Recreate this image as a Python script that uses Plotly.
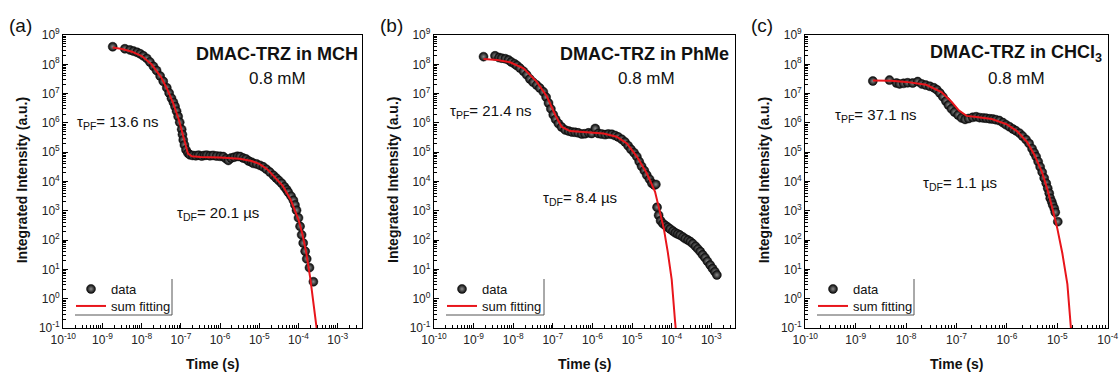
import plotly.graph_objects as go

W, H = 1119, 373

# ---------------- data (log10 of time in s, log10 of intensity) ----------------
# Panel (a) DMAC-TRZ in MCH
a_logt = [-8.74, -8.43, -8.30, -8.21, -8.12, -8.04, -7.96, -7.87, -7.79, -7.70, -7.62, -7.53,
          -7.45, -7.36, -7.30, -7.24, -7.19, -7.15, -7.11, -7.07, -7.03, -6.98, -6.96, -6.94,
          -6.91, -6.87, -6.82, -6.77, -6.70, -6.62, -6.55, -6.47, -6.40, -6.34, -6.26, -6.18,
          -6.09, -6.00, -5.92, -5.85, -5.79, -5.72, -5.64, -5.56, -5.49, -5.41, -5.34, -5.27,
          -5.20, -5.15, -5.07, -4.98, -4.90, -4.82, -4.73, -4.64, -4.57, -4.50, -4.43, -4.36,
          -4.30, -4.26, -4.19, -4.13, -4.09, -4.05, -4.00, -3.96, -3.92, -3.88, -3.83, -3.79,
          -3.72, -3.62]
a_logI = [8.60, 8.53, 8.49, 8.45, 8.41, 8.36, 8.29, 8.20, 8.08, 7.93, 7.79, 7.60,
          7.42, 7.20, 7.02, 6.84, 6.70, 6.56, 6.40, 6.22, 6.02, 5.78, 5.60, 5.42,
          5.25, 5.08, 4.97, 4.91, 4.89, 4.88, 4.90, 4.87, 4.89, 4.90, 4.88, 4.89,
          4.87, 4.86, 4.85, 4.78, 4.72, 4.80, 4.83, 4.86, 4.85, 4.80, 4.77, 4.70,
          4.66, 4.62, 4.60, 4.55, 4.50, 4.42, 4.32, 4.21, 4.12, 4.03, 3.94, 3.82,
          3.72, 3.63, 3.50, 3.36, 3.20, 3.02, 2.76, 2.47, 2.18, 1.90, 1.62, 1.36,
          1.06, 0.58]
a_fit_logt = [-8.74, -8.50, -8.25, -8.00, -7.75, -7.50, -7.35, -7.20, -7.05, -6.95, -6.88,
              -6.82, -6.72, -6.50, -6.00, -5.50, -5.20, -5.00, -4.80, -4.60, -4.40, -4.20,
              -4.00, -3.90, -3.80, -3.70, -3.60, -3.54, -3.50]
a_fit_logI = [8.57, 8.52, 8.43, 8.28, 8.00, 7.55, 7.15, 6.68, 6.10, 5.60, 5.20,
              4.95, 4.86, 4.84, 4.82, 4.78, 4.70, 4.60, 4.42, 4.15, 3.85, 3.38,
              2.70, 2.20, 1.55, 0.70, -0.30, -1.00, -1.40]

# Panel (b) DMAC-TRZ in PhMe
b_logt = [-8.75, -8.46, -8.36, -8.29, -8.20, -8.12, -8.05, -7.97, -7.91, -7.83, -7.74, -7.66,
          -7.58, -7.50, -7.41, -7.33, -7.24, -7.17, -7.11, -7.05, -6.99, -6.93, -6.86, -6.78,
          -6.69, -6.60, -6.52, -6.44, -6.36, -6.27, -6.19, -6.10, -6.02, -5.93, -5.85, -5.77,
          -5.68, -5.60, -5.51, -5.43, -5.35, -5.26, -5.18, -5.10, -5.03, -4.95, -4.88, -4.82,
          -4.76, -4.69, -4.63, -4.56, -4.50, -4.44, -4.40, -4.37, -4.33, -4.28, -4.22, -4.16,
          -4.10, -4.04, -3.97, -3.91, -3.85, -3.79, -3.72, -3.66, -3.59, -3.53, -3.47, -3.40,
          -3.34, -3.28, -3.22, -3.16, -3.10, -3.03, -2.97, -2.91, -2.86]
b_logI = [8.26, 8.29, 8.23, 8.21, 8.19, 8.15, 8.08, 8.02, 7.96, 7.87, 7.76, 7.64,
          7.50, 7.39, 7.29, 7.19, 7.06, 6.88, 6.68, 6.48, 6.28, 6.12, 5.98, 5.86,
          5.76, 5.72, 5.69, 5.68, 5.66, 5.62, 5.63, 5.66, 5.64, 5.81, 5.64, 5.62,
          5.60, 5.62, 5.61, 5.57, 5.52, 5.44, 5.35, 5.22, 5.10, 4.98, 4.85, 4.68,
          4.52, 4.37, 4.22, 4.08, 3.94, 3.88, 3.90, 3.12, 2.85, 2.66, 2.56, 2.50,
          2.44, 2.38, 2.31, 2.25, 2.21, 2.17, 2.11, 2.05, 2.00, 1.95, 1.88, 1.79,
          1.70, 1.61, 1.50, 1.40, 1.28, 1.15, 1.03, 0.92, 0.81]
b_fit_logt = [-8.75, -8.40, -8.08, -7.74, -7.41, -7.15, -6.94, -6.78, -6.57, -6.15, -5.72,
              -5.39, -5.13, -4.88, -4.63, -4.42, -4.30, -4.20, -4.10, -4.00, -3.92, -3.88]
b_fit_logI = [8.18, 8.15, 8.07, 7.86, 7.41, 6.90, 6.27, 5.87, 5.72, 5.68, 5.64,
              5.53, 5.30, 4.85, 4.28, 3.65, 3.00, 2.40, 1.60, 0.65, -0.70, -1.30]

# Panel (c) DMAC-TRZ in CHCl3
c_logt = [-8.66, -8.33, -8.19, -8.13, -8.05, -7.97, -7.87, -7.77, -7.69, -7.61, -7.53, -7.45,
          -7.39, -7.33, -7.27, -7.21, -7.16, -7.10, -7.04, -6.97, -6.90, -6.83, -6.76, -6.68,
          -6.61, -6.54, -6.47, -6.41, -6.34, -6.28, -6.22, -6.15, -6.08, -6.02, -5.95, -5.88,
          -5.82, -5.75, -5.69, -5.62, -5.56, -5.50, -5.46, -5.42, -5.38, -5.34, -5.30, -5.26,
          -5.22, -5.19, -5.16, -5.14, -5.11, -5.09, -5.06, -5.04, -4.99]
c_logI = [7.43, 7.46, 7.36, 7.33, 7.35, 7.37, 7.36, 7.41, 7.33, 7.29, 7.25, 7.20,
          7.13, 7.02, 6.89, 6.74, 6.61, 6.48, 6.37, 6.27, 6.17, 6.12, 6.15, 6.19,
          6.21, 6.18, 6.17, 6.16, 6.14, 6.13, 6.11, 6.08, 6.01, 5.94, 5.87, 5.79,
          5.73, 5.65, 5.55, 5.43, 5.30, 5.12, 4.98, 4.85, 4.68, 4.50, 4.32, 4.12,
          3.94, 3.77, 3.60, 3.43, 3.31, 3.20, 3.08, 2.95, 2.63]
c_fit_logt = [-8.66, -8.30, -8.00, -7.60, -7.30, -7.10, -6.95, -6.80, -6.60, -6.30, -6.00,
              -5.80, -5.60, -5.45, -5.30, -5.20, -5.10, -5.00, -4.90, -4.80, -4.73, -4.70]
c_fit_logI = [7.45, 7.44, 7.40, 7.30, 7.05, 6.72, 6.42, 6.24, 6.20, 6.13, 5.95,
              5.72, 5.35, 4.90, 4.30, 3.75, 3.10, 2.40, 1.55, 0.50, -1.00, -1.40]

panel_letters = ["(a)", "(b)", "(c)"]
titles = ["DMAC-TRZ in MCH", "DMAC-TRZ in PhMe", "DMAC-TRZ in CHCl<sub>3</sub>"]
concentration = "0.8 mM"
tau_pf = ["13.6 ns", "21.4 ns", "37.1 ns"]
tau_df = ["20.1 µs", "8.4 µs", "1.1 µs"]
x_tick_exps = [[-10, -9, -8, -7, -6, -5, -4, -3],
               [-10, -9, -8, -7, -6, -5, -4, -3],
               [-10, -9, -8, -7, -6, -5, -4]]
y_tick_exps = [-1, 0, 1, 2, 3, 4, 5, 6, 7, 8, 9]

# ---------------- layout geometry (pixels) ----------------
FONT = "Liberation Sans, Arial, sans-serif"
plot_left = [63.3, 434.0, 805.3]
plot_right = [362.0, 734.7, 1107.7]
plot_top, plot_bottom = 35.0, 328.0
x_max_exp = [-2.38, -2.41, -4.0]

def px(x):
    return x / W

def py(y):
    return 1 - y / H

data_sets = [(a_logt, a_logI, a_fit_logt, a_fit_logI),
             (b_logt, b_logI, b_fit_logt, b_fit_logI),
             (c_logt, c_logI, c_fit_logt, c_fit_logI)]

fig = go.Figure()
annotations = []
shapes = []
legend_left = [71.0, 442.0, 813.0]
legend_right = [172.0, 544.0, 914.0]
layout_axes = {}

def ann(text, x, y, size, xanchor="left", yanchor="middle", **kw):
    d = dict(text=text, x=px(x), y=py(y), xref="paper", yref="paper",
             xanchor=xanchor, yanchor=yanchor, showarrow=False,
             font=dict(family=FONT, size=size, color="#111111"))
    d.update(kw)
    return d

for i, (lt, li, flt, fli) in enumerate(data_sets):
    xa = "x" if i == 0 else f"x{i+1}"
    ya = "y" if i == 0 else f"y{i+1}"
    leg_data = f"legend{2 * i + 1}" if i > 0 else "legend"
    leg_fit = f"legend{2 * i + 2}"
    fig.add_trace(go.Scatter(
        x=[10 ** v for v in lt], y=[10 ** v for v in li], mode="markers", name="data",
        xaxis=xa, yaxis=ya, legend=leg_data, showlegend=True,
        marker=dict(size=9, color="#050505",
                    gradient=dict(type="radial", color="#8c8c8c"),
                    line=dict(color="#111111", width=0.5)),
    ))
    fig.add_trace(go.Scatter(
        x=[10 ** v for v in flt], y=[10 ** v for v in fli], mode="lines", name="sum fitting",
        xaxis=xa, yaxis=ya, legend=leg_fit, showlegend=True,
        line=dict(color="#e8151b", width=2),
    ))

    axis_common = dict(
        type="log", showline=True, linecolor="black", linewidth=1.3, mirror=True,
        ticks="inside", ticklen=5, tickwidth=1, tickcolor="black",
        showgrid=False, zeroline=False,
        tickfont=dict(family=FONT, size=12, color="#222222"),
        minor=dict(ticks="inside", ticklen=2.5, tickwidth=0.8, tickcolor="black",
                   dtick="D1", showgrid=False),
    )
    xkey = "xaxis" if i == 0 else f"xaxis{i+1}"
    ykey = "yaxis" if i == 0 else f"yaxis{i+1}"
    layout_axes[xkey] = dict(axis_common, domain=[px(plot_left[i]), px(plot_right[i])],
                             range=[-10, x_max_exp[i]], anchor=ya,
                             tickmode="array", tickvals=[10 ** e for e in x_tick_exps[i]],
                             ticktext=[f"10<sup>{e}</sup>" for e in x_tick_exps[i]])
    layout_axes[ykey] = dict(axis_common, domain=[py(plot_bottom), py(plot_top)],
                             range=[-1, 9], anchor=xa,
                             tickmode="array", tickvals=[10 ** e for e in y_tick_exps],
                             ticktext=[f"10<sup>{e}</sup>" for e in y_tick_exps])
    leg_common = dict(xanchor="left", yanchor="middle", bgcolor="rgba(0,0,0,0)",
                      borderwidth=0, font=dict(family=FONT, size=13, color="#111111"),
                      itemwidth=30, visible=True)
    layout_axes[leg_data] = dict(leg_common, x=px(legend_left[i]), y=py(289))
    layout_axes[leg_fit] = dict(leg_common, x=px(legend_left[i]), y=py(306))

    # legend frame (right and bottom edges)
    shapes.append(dict(type="line", xref="paper", yref="paper",
                       x0=px(legend_left[i] + 4), x1=px(legend_right[i]), y0=py(315), y1=py(315),
                       line=dict(color="#555555", width=1)))
    shapes.append(dict(type="line", xref="paper", yref="paper",
                       x0=px(legend_right[i]), x1=px(legend_right[i]), y0=py(279), y1=py(315),
                       line=dict(color="#555555", width=1)))

    cx = (plot_left[i] + plot_right[i]) / 2
    annotations.append(ann(panel_letters[i], plot_left[i] - 56, 25, 19))
    annotations.append(ann("<b>Time (s)</b>", cx, 364, 14, xanchor="center"))
    annotations.append(ann("<b>Integrated Intensity (a.u.)</b>", plot_left[i] - 41, 180, 14,
                           xanchor="center", textangle=-90))

title_right = [360, 731, 1104]
conc_center = [277, 646, 1016]
pf_pos = [(75, 122), (448, 112), (833, 115)]
df_pos = [(175, 213), (541, 198), (921, 183)]
for i in range(3):
    annotations.append(ann(f"<b>{titles[i]}</b>", title_right[i], 54, 18, xanchor="right"))
    annotations.append(ann(concentration, conc_center[i], 78, 17, xanchor="center"))
    annotations.append(ann(f"τ<sub>PF</sub>= {tau_pf[i]}", pf_pos[i][0], pf_pos[i][1], 15))
    annotations.append(ann(f"τ<sub>DF</sub>= {tau_df[i]}", df_pos[i][0], df_pos[i][1], 15))

fig.update_layout(
    width=W, height=H, margin=dict(l=0, r=0, t=0, b=0, autoexpand=False),
    paper_bgcolor="white", plot_bgcolor="white", showlegend=True,
    annotations=annotations, shapes=shapes,
    font=dict(family=FONT),
    **layout_axes,
)

fig.write_html("out.html")
